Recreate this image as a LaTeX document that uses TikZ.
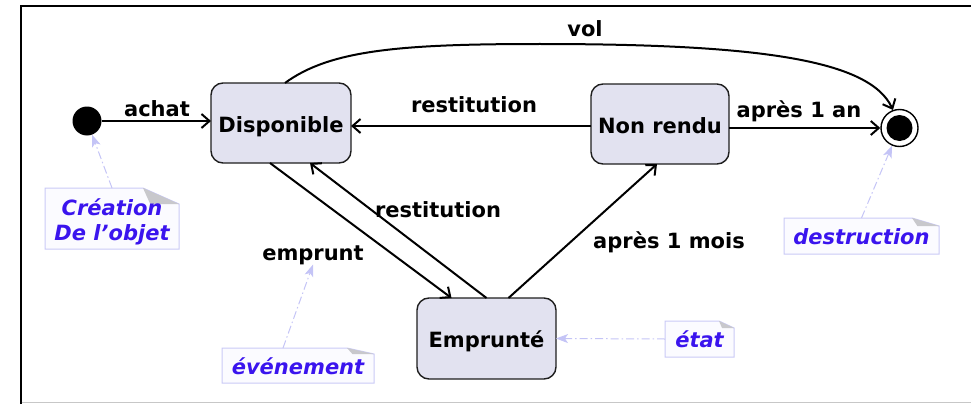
\documentclass[tikz,border=0pt]{standalone}
\usepackage{fontspec}
\setmainfont{DejaVu Sans}
\usetikzlibrary{arrows.meta,calc}
\definecolor{stfill}{HTML}{E2E2F0}
\definecolor{stdraw}{HTML}{1E1E1E}
\definecolor{notefill}{HTML}{FBFBFF}
\definecolor{notedraw}{HTML}{CACAF6}
\definecolor{notetext}{HTML}{3A14EE}
\definecolor{foldc}{HTML}{C8C8CC}
\definecolor{linkc}{HTML}{C4C4F6}
\pgfdeclarelayer{bg}\pgfsetlayers{bg,main}
\newcommand{\notebg}[3]{%
 \begin{pgfonlayer}{bg}
 \draw[notebd] (#1.north west) -- ($(#1.north east)+(-#2,0)$) -- ($(#1.north east)+(0,#3)$) -- (#1.south east) -- (#1.south west) -- cycle;
 \fill[foldc] ($(#1.north east)+(-#2,0)$) -- ($(#1.north east)+(-0.8*#2,#3)$) -- ($(#1.north east)+(0,#3)$) -- cycle;
 \end{pgfonlayer}}
\begin{document}
\begin{tikzpicture}[x=1pt,y=-1pt,
 font=\fontsize{21}{25}\selectfont\bfseries,
 stbox/.style={draw=stdraw, line width=1.4pt, fill=stfill, rounded corners=12pt, inner sep=0pt, outer sep=0pt, text height=18pt, text depth=0pt},
 lab/.style={anchor=base, inner sep=0pt},
 notebox/.style={inner sep=0pt, outer sep=0pt, text=notetext, font=\fontsize{21}{25}\selectfont\bfseries\itshape, align=center, text height=17pt, text depth=0pt},
 trans/.style={line width=2pt, -{Straight Barb[length=8pt,width=14pt]}},
 notelink/.style={draw=linkc, line width=1pt, dash pattern=on 8pt off 3pt on 1.5pt off 3pt, -{Stealth[length=12pt,width=9pt,inset=3pt,fill=linkc]}},
 notebd/.style={draw=notedraw, fill=notefill, line width=1pt},
]
\useasboundingbox (0,0) rectangle (971,404);
% frame
\draw[line width=2pt] (20.5,404) -- (20.5,6) -- (971,6);
\draw[black!22, line width=1.5pt] (21.5,402.5) -- (971,402.5);

% states
\node[stbox, minimum width=140pt, minimum height=80pt] (disp) at (281,123) {Disponible};
\node[stbox, minimum width=138pt, minimum height=80pt] (nr) at (660,124) {Non rendu};
\node[stbox, minimum width=139pt, minimum height=81pt] (empr) at (486.5,338.5) {Emprunté};
\node[circle, fill=black, minimum size=29pt, inner sep=0pt] (init) at (87,121) {};
\node[circle, draw=black, line width=1.4pt, fill=white, minimum size=37pt, inner sep=0pt] (fin) at (899.5,128) {};
\node[circle, fill=black, minimum size=26pt, inner sep=0pt] (finin) at (fin) {};

% labels
\node[lab] (lvol) at (585,37) {vol};
\node[lab] (lachat) at (157,116) {achat};
\node[lab] (lrest1) at (474,112) {restitution};
\node[lab] (lan) at (799,117) {après 1 an};
\node[lab] (lrest2) at (438,217) {restitution};
\node[lab] (lemp) at (313,260) {emprunt};
\node[lab] (lmois) at (669,248) {après 1 mois};

% transitions
\draw[trans] (init) -- (disp.west |- init);
\draw[trans] ($(nr.west)+(0,2)$) -- ($(disp.east)+(0,3)$);
\draw[trans] ($(nr.east)+(0,4)$) -- (fin.west);
\draw[trans] ($(disp.south)+(-11,0)$) -- ($(empr.north)+(-35,0)$);
\draw[trans] (empr.north) -- ($(disp.south)+(29,0)$);
\draw[trans] ($(empr.north)+(22,0)$) -- ($(nr.south)+(-3,0)$);
\coordinate (volpk) at (540,44);
\draw[trans] ($(disp.north)+(4,0)$) .. controls (330,50) and (400,44) .. (volpk) .. controls (760,44) and (870,60) .. (fin.110);

% notes
\node[notebox, minimum width=134pt, minimum height=61pt, text height=48pt, text depth=5pt] (ncr) at (112,218.5) {Création\\De l’objet};
\node[notebox, minimum width=155pt, minimum height=36pt] (ndes) at (861.5,236) {destruction};
\node[notebox, minimum width=152pt, minimum height=35pt] (nev) at (298,365.5) {événement};
\node[notebox, minimum width=69pt, minimum height=36pt] (net) at (699.5,339) {état};
\notebg{ncr}{36}{16}
\notebg{ndes}{27}{8}
\notebg{nev}{27}{6}
\notebg{net}{15}{7}

% note links
\draw[notelink] (ncr.north) -- (init);
\draw[notelink] (ndes.north) -- (fin);
\draw[notelink] ($(nev.north)+(-15,0)$) -- (lemp.south);
\draw[notelink] (net.west) -- (empr.east);
\end{tikzpicture}
\end{document}
